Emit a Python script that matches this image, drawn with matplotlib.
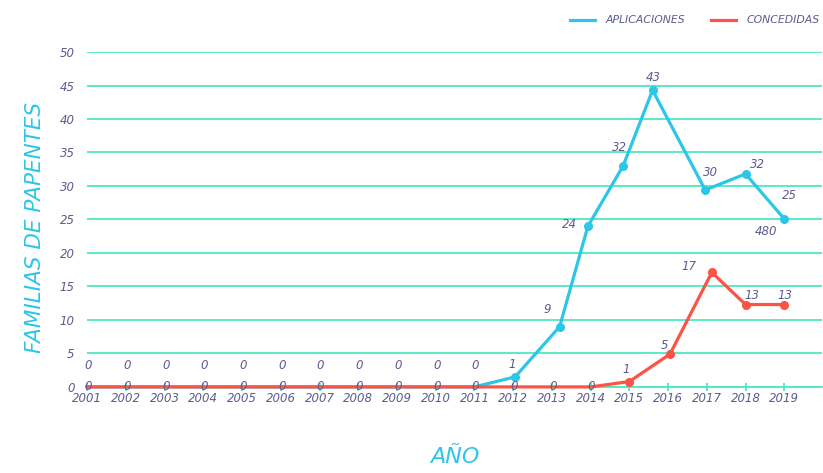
import matplotlib
matplotlib.use("Agg")
import matplotlib.pyplot as plt
from matplotlib.lines import Line2D

# --- Datos ---
anios = list(range(2001, 2020))
anios_txt = [str(a) for a in anios]

# posiciones (en anos) y valores de la serie APLICACIONES tal como aparecen
apl_x = [2001, 2002, 2003, 2004, 2005, 2006, 2007, 2008, 2009, 2010, 2011,
         2012.05, 2013.2, 2013.93, 2014.84, 2015.6, 2016.96, 2018.0, 2019.0]
apl_y = [0, 0, 0, 0, 0, 0, 0, 0, 0, 0, 0,
         1.5, 9.0, 24.0, 33.0, 44.3, 29.4, 31.8, 25.1]
apl_lbl = ["0"] * 11 + ["1", "9", "24", "32", "43", "30", "32", "25"]

con_x = [2001, 2002, 2003, 2004, 2005, 2006, 2007, 2008, 2009, 2010, 2011,
         2012, 2013, 2014, 2015, 2016.05, 2017.13, 2018.0, 2019.0]
con_y = [0, 0, 0, 0, 0, 0, 0, 0, 0, 0, 0, 0, 0, 0,
         0.8, 4.9, 17.1, 12.3, 12.3]
con_lbl = ["0"] * 14 + ["1", "5", "17", "13", "13"]

extra_lbl = "480"   # etiqueta suelta junto al ultimo punto de aplicaciones

# --- Estilo ---
AZUL = "#2cc6e8"
ROJO = "#fb5346"
REJILLA = "#4ee8c2"
TEXTO = "#5b5b8e"

# desplazamientos de etiquetas (pixeles)
apl_off = [(1, 21)] * 11 + [(-3, 12), (-12, 17), (-18, 2), (-4, 18),
                            (1, 13), (5, 18), (12, 9), (5, 23)]
con_off = [(1, 0)] * 14 + [(-3, 12), (-5, 9), (-23, 6), (6, 9), (1, 9)]

fig = plt.figure(figsize=(8.23, 4.73), dpi=100)
ax = fig.add_axes([0.106, 0.182, 0.893, 0.708])

ax.set_xlim(2001, 2019.98)
ax.set_ylim(0, 50)
ax.set_yticks(range(0, 51, 5))
ax.set_xticks(anios)
ax.set_xticklabels(anios_txt)
ax.grid(axis="y", color=REJILLA, lw=1.3)
ax.set_axisbelow(True)
for s in ["top", "right", "left"]:
    ax.spines[s].set_visible(False)
ax.spines["bottom"].set_color(REJILLA)
ax.spines["bottom"].set_linewidth(1.3)
ax.tick_params(axis="x", colors=REJILLA, direction="inout", length=6, width=1.3,
               labelcolor=TEXTO, labelsize=8.5, pad=1)
ax.tick_params(axis="y", length=0, labelcolor=TEXTO, labelsize=8.5, pad=9)
for t in ax.get_xticklabels() + ax.get_yticklabels():
    t.set_fontstyle("italic")

ax.plot(apl_x, apl_y, color=AZUL, lw=2.3, clip_on=False, zorder=3)
ax.plot(con_x, con_y, color=ROJO, lw=2.3, clip_on=False, zorder=4)
ax.scatter([x for x, y in zip(apl_x, apl_y) if y > 0],
           [y for y in apl_y if y > 0], s=30, color=AZUL, zorder=5, clip_on=False)
ax.scatter([x for x, y in zip(con_x, con_y) if y > 0],
           [y for y in con_y if y > 0], s=30, color=ROJO, zorder=5, clip_on=False)

for x, y, t, o in zip(apl_x, apl_y, apl_lbl, apl_off):
    ax.annotate(t, (x, y), xytext=o, textcoords="offset pixels", ha="center",
                va="center", color=TEXTO, fontsize=8.5, style="italic",
                annotation_clip=False, zorder=6)
for x, y, t, o in zip(con_x, con_y, con_lbl, con_off):
    ax.annotate(t, (x, y), xytext=o, textcoords="offset pixels", ha="center",
                va="center", color=TEXTO, fontsize=8.5, style="italic",
                annotation_clip=False, zorder=6)
ax.annotate(extra_lbl, (apl_x[-1], apl_y[-1]), xytext=(-18, -13),
            textcoords="offset pixels", ha="center", va="center", color=TEXTO,
            fontsize=8.5, style="italic", annotation_clip=False)

ax.set_ylabel("FAMILIAS DE PAPENTES", color=AZUL, fontsize=15.5, style="italic")
ax.yaxis.set_label_coords(-0.058, 0.475)
ax.set_xlabel("AÑO", color=AZUL, fontsize=16, style="italic", labelpad=30)

handles = [Line2D([], [], color=AZUL, lw=2.3), Line2D([], [], color=ROJO, lw=2.3)]
fig.legend(handles, ["APLICACIONES", "CONCEDIDAS"], loc="upper right",
           bbox_to_anchor=(1.008, 0.988), ncol=2, frameon=False, handlelength=2.3,
           handletextpad=1.0, columnspacing=2.4, prop={"size": 7.8, "style": "italic"},
           labelcolor=TEXTO)

fig.savefig("out.png", dpi=100)
